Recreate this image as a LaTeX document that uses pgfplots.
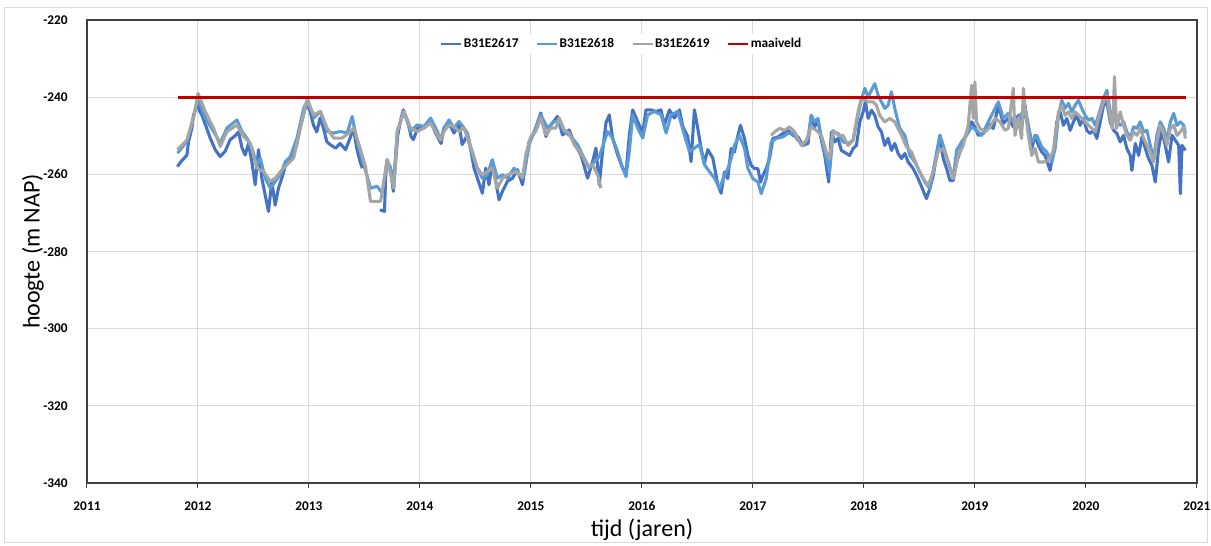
\documentclass[border=0pt]{standalone}
\usepackage{pgfplots}
\pgfplotsset{compat=1.18}
\usepackage{pgfplotstable}
\usepackage{fontspec}
\setmainfont{Carlito}
\definecolor{cA}{HTML}{4472C4}
\definecolor{cB}{HTML}{5B9BD5}
\definecolor{cC}{HTML}{A5A5A5}
\definecolor{cR}{HTML}{C00000}
\definecolor{gridmaj}{HTML}{D9D9D9}
\definecolor{gridmin}{HTML}{EFEFEF}

\pgfplotstableread{
x y
2011.815 -258.0
2011.839 -257.0
2011.869 -256.0
2011.900 -255.0
2011.915 -251.5
2011.945 -248.0
2011.960 -244.6
2011.990 -242.4
2012.000 -241.0
2012.015 -243.7
2012.035 -244.6
2012.065 -247.0
2012.110 -250.6
2012.155 -253.6
2012.200 -255.4
2012.245 -254.0
2012.290 -251.0
2012.335 -250.0
2012.365 -249.0
2012.395 -253.0
2012.425 -255.0
2012.455 -252.0
2012.485 -256.7
2012.515 -262.7
2012.545 -253.6
2012.575 -261.0
2012.605 -265.3
2012.635 -269.6
2012.665 -261.8
2012.695 -268.0
2012.725 -263.6
2012.755 -261.0
2012.785 -258.0
2012.815 -256.2
2012.860 -255.0
2012.890 -252.3
2012.920 -248.0
2012.950 -244.6
2012.980 -241.6
2013.010 -243.7
2013.040 -247.2
2013.070 -249.0
2013.100 -245.4
2013.130 -248.0
2013.160 -251.5
2013.190 -252.3
2013.240 -253.2
2013.280 -252.0
2013.330 -253.6
2013.370 -250.6
2013.400 -248.0
2013.430 -253.2
2013.460 -256.7
2013.480 -258.4
2013.560 nan
2013.640 -269.2
2013.680 -269.6
2013.690 -261.0
2013.700 -256.7
2013.730 -258.0
2013.760 -264.4
2013.780 -256.7
2013.800 -249.8
2013.830 -245.4
2013.850 -243.3
2013.890 -246.3
2013.920 -250.2
2013.940 -251.0
2013.980 -248.0
2014.035 -248.0
2014.095 -246.3
2014.140 -249.3
2014.190 -252.0
2014.216 -248.0
2014.261 -246.7
2014.306 -249.3
2014.351 -247.0
2014.380 -252.3
2014.427 -249.8
2014.457 -253.6
2014.487 -258.4
2014.517 -261.0
2014.562 -264.9
2014.592 -258.4
2014.622 -262.7
2014.652 -256.7
2014.682 -261.8
2014.712 -266.6
2014.743 -264.4
2014.788 -261.8
2014.833 -261.0
2014.878 -258.8
2014.923 -262.7
2014.953 -256.7
2014.983 -251.5
2015.028 -249.3
2015.088 -244.1
2015.134 -250.2
2015.179 -247.2
2015.239 -245.0
2015.284 -249.8
2015.344 -248.5
2015.389 -251.9
2015.449 -254.9
2015.510 -261.0
2015.555 -256.7
2015.585 -253.2
2015.615 -262.7
2015.645 -254.0
2015.675 -246.7
2015.705 -244.6
2015.735 -250.6
2015.780 -254.9
2015.825 -258.4
2015.856 -259.7
2015.886 -249.8
2015.916 -243.3
2015.961 -246.3
2016.006 -249.3
2016.036 -243.3
2016.081 -243.3
2016.126 -243.7
2016.171 -243.3
2016.201 -247.2
2016.247 -243.3
2016.292 -245.4
2016.337 -243.3
2016.367 -247.6
2016.412 -250.2
2016.442 -256.7
2016.472 -243.3
2016.502 -248.0
2016.532 -253.2
2016.562 -257.1
2016.593 -253.6
2016.638 -255.8
2016.683 -262.7
2016.713 -264.9
2016.743 -259.4
2016.773 -261.1
2016.803 -253.3
2016.833 -254.2
2016.864 -249.9
2016.887 -247.3
2016.923 -250.7
2016.954 -255.1
2016.984 -257.7
2017.014 -258.5
2017.044 -258.5
2017.068 -262.0
2017.089 -260.3
2017.119 -258.5
2017.149 -255.9
2017.179 -250.7
2017.225 -250.3
2017.270 -249.4
2017.315 -248.6
2017.360 -249.9
2017.405 -250.3
2017.450 -252.5
2017.495 -252.0
2017.525 -244.7
2017.555 -247.7
2017.586 -246.0
2017.616 -251.2
2017.646 -255.1
2017.682 -262.0
2017.706 -249.0
2017.736 -251.6
2017.766 -250.7
2017.796 -253.8
2017.841 -254.6
2017.871 -255.1
2017.902 -253.3
2017.932 -252.5
2017.962 -246.4
2017.992 -243.8
2018.013 -241.2
2018.037 -245.5
2018.067 -243.4
2018.097 -244.7
2018.127 -247.7
2018.157 -249.0
2018.187 -252.5
2018.217 -250.7
2018.247 -253.8
2018.277 -252.0
2018.308 -254.6
2018.338 -255.9
2018.368 -254.6
2018.398 -256.8
2018.443 -258.5
2018.488 -261.1
2018.533 -264.2
2018.563 -266.3
2018.593 -263.7
2018.624 -260.3
2018.654 -255.1
2018.684 -249.9
2018.714 -255.9
2018.744 -258.5
2018.774 -261.6
2018.804 -261.6
2018.834 -256.8
2018.864 -254.2
2018.894 -251.6
2018.939 -248.1
2018.969 -246.4
2018.999 -247.7
2019.030 -249.9
2019.075 -249.4
2019.120 -246.8
2019.165 -248.1
2019.210 -242.1
2019.255 -246.8
2019.300 -245.5
2019.345 -247.7
2019.390 -244.7
2019.420 -247.7
2019.451 -242.1
2019.481 -249.0
2019.511 -253.3
2019.541 -249.9
2019.571 -252.5
2019.601 -254.2
2019.631 -255.1
2019.676 -259.0
2019.707 -254.2
2019.737 -246.4
2019.767 -243.8
2019.797 -247.3
2019.827 -245.5
2019.857 -248.6
2019.887 -246.4
2019.917 -244.7
2019.947 -247.3
2019.977 -245.5
2020.007 -248.6
2020.037 -249.4
2020.068 -248.6
2020.098 -250.7
2020.128 -246.4
2020.158 -242.1
2020.188 -241.2
2020.218 -246.4
2020.248 -248.6
2020.278 -249.4
2020.308 -251.6
2020.338 -249.9
2020.368 -253.3
2020.398 -255.1
2020.413 -259.0
2020.444 -252.0
2020.474 -255.1
2020.504 -250.3
2020.534 -253.3
2020.564 -255.9
2020.594 -257.7
2020.624 -262.0
2020.654 -253.3
2020.684 -248.6
2020.714 -252.5
2020.744 -256.8
2020.775 -249.9
2020.805 -251.2
2020.835 -252.5
2020.850 -265.0
2020.865 -252.5
2020.895 -253.8
}\dA

\pgfplotstableread{
x y
2011.815 -254.5
2011.900 -251.5
2011.960 -245.0
2012.000 -240.3
2012.065 -245.4
2012.140 -248.9
2012.200 -251.9
2012.261 -248.0
2012.351 -245.9
2012.396 -248.9
2012.441 -250.6
2012.486 -253.2
2012.531 -257.5
2012.561 -255.8
2012.606 -261.0
2012.652 -263.6
2012.697 -261.8
2012.742 -260.1
2012.787 -256.7
2012.832 -255.4
2012.892 -250.6
2012.953 -242.8
2012.989 -240.7
2013.043 -245.4
2013.103 -243.7
2013.163 -248.9
2013.223 -249.3
2013.284 -248.9
2013.344 -249.3
2013.389 -245.0
2013.434 -251.5
2013.494 -257.5
2013.554 -263.6
2013.614 -263.1
2013.660 -264.9
2013.705 -256.2
2013.765 -261.0
2013.795 -248.9
2013.855 -243.7
2013.915 -248.9
2013.975 -247.2
2014.036 -247.6
2014.096 -245.4
2014.156 -248.9
2014.186 -251.1
2014.216 -248.0
2014.261 -245.9
2014.306 -248.0
2014.351 -246.3
2014.397 -248.0
2014.427 -249.3
2014.472 -254.9
2014.517 -258.4
2014.562 -261.0
2014.607 -260.1
2014.652 -256.2
2014.697 -261.0
2014.743 -260.1
2014.788 -261.0
2014.848 -258.4
2014.893 -260.1
2014.938 -260.1
2014.983 -252.3
2015.028 -248.9
2015.088 -244.6
2015.149 -248.0
2015.209 -246.3
2015.254 -246.3
2015.299 -248.9
2015.359 -250.2
2015.419 -252.3
2015.479 -255.8
2015.525 -258.4
2015.570 -256.7
2015.615 -255.4
2015.660 -251.5
2015.690 -248.9
2015.735 -250.6
2015.780 -254.1
2015.826 -258.4
2015.856 -260.6
2015.886 -254.1
2015.916 -244.6
2015.961 -248.0
2016.006 -250.6
2016.051 -244.6
2016.111 -243.7
2016.172 -244.6
2016.217 -249.3
2016.262 -244.6
2016.322 -243.7
2016.382 -249.8
2016.427 -254.1
2016.472 -253.2
2016.517 -252.3
2016.563 -257.5
2016.608 -259.3
2016.653 -261.0
2016.698 -263.6
2016.743 -260.3
2016.773 -258.5
2016.803 -255.9
2016.833 -252.5
2016.878 -249.9
2016.924 -253.3
2016.954 -258.5
2016.999 -261.1
2017.044 -262.0
2017.074 -265.0
2017.119 -261.1
2017.164 -251.6
2017.209 -250.7
2017.270 -250.3
2017.315 -249.4
2017.360 -249.4
2017.405 -251.2
2017.450 -252.5
2017.495 -250.7
2017.525 -244.7
2017.555 -246.4
2017.585 -245.5
2017.616 -250.7
2017.661 -255.9
2017.691 -259.4
2017.721 -249.0
2017.766 -249.4
2017.811 -251.6
2017.856 -252.0
2017.901 -251.2
2017.946 -244.7
2017.976 -240.8
2018.007 -237.7
2018.037 -239.9
2018.067 -238.2
2018.097 -236.5
2018.127 -239.5
2018.157 -241.2
2018.187 -242.9
2018.217 -242.1
2018.247 -238.6
2018.277 -242.9
2018.322 -248.1
2018.368 -249.9
2018.413 -255.1
2018.458 -256.8
2018.503 -259.4
2018.548 -262.0
2018.593 -263.7
2018.638 -256.8
2018.684 -249.9
2018.714 -252.5
2018.759 -256.8
2018.804 -261.1
2018.834 -253.8
2018.879 -251.6
2018.924 -249.9
2018.969 -247.7
2019.014 -248.6
2019.060 -249.9
2019.105 -247.3
2019.165 -243.8
2019.210 -241.2
2019.255 -245.5
2019.300 -244.2
2019.345 -246.4
2019.390 -245.5
2019.451 -242.9
2019.481 -247.3
2019.511 -251.6
2019.556 -249.9
2019.601 -252.9
2019.646 -254.2
2019.692 -256.8
2019.722 -253.3
2019.752 -244.7
2019.782 -240.8
2019.812 -242.9
2019.842 -241.6
2019.872 -243.8
2019.902 -242.1
2019.932 -240.8
2019.962 -242.9
2019.992 -244.7
2020.022 -246.0
2020.053 -245.5
2020.083 -247.3
2020.113 -244.7
2020.158 -240.3
2020.188 -238.2
2020.218 -243.8
2020.248 -245.5
2020.278 -246.4
2020.308 -247.3
2020.338 -246.4
2020.368 -249.0
2020.398 -250.7
2020.429 -247.7
2020.459 -248.1
2020.489 -246.4
2020.519 -249.0
2020.549 -248.6
2020.579 -252.5
2020.609 -255.9
2020.639 -249.9
2020.669 -246.4
2020.699 -248.1
2020.729 -251.2
2020.760 -246.4
2020.790 -244.2
2020.820 -247.3
2020.850 -246.4
2020.880 -247.3
2020.895 -249.4
}\dB

\pgfplotstableread{
x y
2011.815 -253.6
2011.900 -251.1
2011.960 -245.5
2012.000 -239.0
2012.065 -243.7
2012.140 -248.0
2012.200 -252.8
2012.261 -248.9
2012.351 -247.2
2012.411 -250.2
2012.471 -251.9
2012.531 -258.4
2012.592 -259.3
2012.652 -261.8
2012.697 -261.0
2012.742 -259.3
2012.802 -257.5
2012.862 -255.8
2012.922 -248.0
2012.983 -240.7
2013.043 -244.6
2013.103 -243.7
2013.163 -248.0
2013.223 -250.6
2013.299 -250.6
2013.359 -249.3
2013.404 -248.0
2013.464 -253.6
2013.509 -258.0
2013.554 -267.0
2013.645 -267.0
2013.705 -256.2
2013.765 -263.6
2013.795 -248.9
2013.855 -243.7
2013.915 -248.0
2013.975 -248.9
2014.036 -248.0
2014.096 -246.7
2014.156 -249.8
2014.186 -251.1
2014.216 -248.9
2014.261 -247.2
2014.306 -247.6
2014.351 -248.9
2014.397 -248.0
2014.427 -250.6
2014.472 -254.1
2014.517 -258.4
2014.562 -260.1
2014.607 -259.3
2014.652 -258.4
2014.697 -263.6
2014.743 -261.0
2014.788 -260.1
2014.833 -259.7
2014.878 -259.3
2014.923 -261.0
2014.953 -254.9
2014.998 -250.2
2015.043 -248.9
2015.088 -245.4
2015.134 -249.8
2015.179 -248.0
2015.224 -248.0
2015.254 -245.4
2015.299 -248.5
2015.344 -249.3
2015.389 -252.3
2015.450 -254.5
2015.510 -258.0
2015.555 -257.5
2015.600 -260.1
2015.630 -263.6
2016.400 nan
2017.164 -249.9
2017.194 -249.0
2017.239 -248.1
2017.285 -248.6
2017.330 -247.7
2017.375 -249.0
2017.435 -252.5
2017.480 -251.2
2017.525 -247.7
2017.570 -248.6
2017.616 -249.9
2017.661 -254.2
2017.691 -255.9
2017.721 -248.6
2017.766 -249.9
2017.811 -249.9
2017.856 -252.5
2017.901 -251.2
2017.946 -243.8
2017.976 -240.3
2018.007 -240.8
2018.037 -241.2
2018.082 -241.2
2018.112 -242.1
2018.142 -244.7
2018.187 -246.4
2018.232 -245.5
2018.277 -246.4
2018.338 -249.9
2018.383 -252.9
2018.428 -254.2
2018.488 -258.5
2018.533 -261.1
2018.578 -262.9
2018.623 -259.4
2018.668 -254.2
2018.714 -253.3
2018.759 -256.8
2018.804 -261.1
2018.849 -255.1
2018.894 -252.5
2018.939 -247.3
2018.969 -236.9
2018.984 -245.5
2018.999 -236.0
2019.014 -246.4
2019.045 -248.1
2019.090 -249.0
2019.135 -247.7
2019.180 -245.5
2019.225 -246.4
2019.270 -248.6
2019.300 -248.1
2019.345 -237.7
2019.360 -249.9
2019.390 -245.5
2019.420 -250.7
2019.436 -237.7
2019.451 -242.9
2019.481 -249.9
2019.511 -255.1
2019.541 -253.3
2019.571 -256.8
2019.616 -256.8
2019.661 -256.4
2019.707 -253.8
2019.752 -243.8
2019.782 -242.1
2019.812 -244.7
2019.842 -243.8
2019.872 -245.5
2019.902 -243.8
2019.932 -244.7
2019.962 -245.5
2019.992 -246.4
2020.022 -247.3
2020.053 -248.1
2020.083 -249.0
2020.113 -245.5
2020.158 -241.2
2020.188 -239.5
2020.218 -245.5
2020.239 -248.1
2020.257 -234.7
2020.275 -248.1
2020.308 -243.8
2020.338 -247.3
2020.368 -249.9
2020.398 -251.2
2020.429 -249.0
2020.459 -249.9
2020.489 -248.1
2020.519 -250.7
2020.549 -252.5
2020.579 -254.2
2020.609 -256.8
2020.639 -251.6
2020.669 -247.3
2020.699 -249.4
2020.729 -252.5
2020.760 -248.1
2020.790 -247.3
2020.820 -249.9
2020.850 -249.0
2020.880 -247.7
2020.895 -250.7
}\dC

\begin{document}
\begin{tikzpicture}
\useasboundingbox (-65.25pt,-47.25pt) rectangle (843pt,362.25pt);
\fill[white] (-65.25pt,-47.25pt) rectangle (843pt,362.25pt);
\draw[black!15, line width=0.75pt] (-61.5pt,-45pt) rectangle (840pt,356.25pt);
\begin{axis}[
  scale only axis, width=832.5pt, height=347.25pt,
  xmin=2011, xmax=2021, ymin=-340, ymax=-220,
  xtick={2011,2012,...,2021}, ytick={-340,-320,...,-220},
  minor x tick num=3,
  xmajorgrids, ymajorgrids, xminorgrids,
  major grid style={gridmaj, line width=0.75pt},
  minor grid style={gridmin, line width=0.75pt},
  axis line style={black!75, line width=0.9pt},
  xtick pos=left, tick align=outside, major tick length=3.75pt,
  xtick style={black!75, line width=0.75pt},
  ytick style={draw=none}, minor tick style={draw=none},
  /pgf/number format/assume math mode=true,
  /pgf/number format/1000 sep={},
  xticklabel style={font=\bfseries\fontsize{10}{12}\selectfont, anchor=center, yshift=-13.5pt},
  yticklabel style={font=\bfseries\fontsize{10}{12}\selectfont, anchor=east, xshift=-7.2pt},
  xlabel={tijd (jaren)},
  xlabel style={at={(axis description cs:0.5,0)}, anchor=center, yshift=-35.25pt, font=\fontsize{18}{20}\selectfont},
  ylabel={hoogte (m NAP)},
  ylabel style={at={(axis description cs:0,0.5)}, anchor=center, yshift=40.5pt, font=\fontsize{18}{20}\selectfont},
  unbounded coords=jump,
  legend columns=4,
  legend style={at={(0.4815,0.948)}, anchor=center, draw=none, fill=white,
    font=\bfseries\fontsize{10}{12}\selectfont, inner sep=2pt,
    /tikz/every even column/.append style={column sep=12pt},
    nodes={inner sep=1pt}},
  legend image code/.code={\draw[#1, line width=1.8pt] (0pt,0pt) -- (15pt,0pt);},
  every axis plot/.append style={line join=round, no markers},
]
\addplot[cA, line width=2.3pt] table[x=x,y=y] {\dA};
\addlegendentry{B31E2617}
\addplot[cB, line width=2.3pt] table[x=x,y=y] {\dB};
\addlegendentry{B31E2618}
\addplot[cC, line width=2.3pt] table[x=x,y=y] {\dC};
\addlegendentry{B31E2619}
\addplot[cR, line width=2.3pt] coordinates {(2011.82,-240) (2020.9,-240)};
\addlegendentry{maaiveld}
\end{axis}
\end{tikzpicture}
\end{document}
